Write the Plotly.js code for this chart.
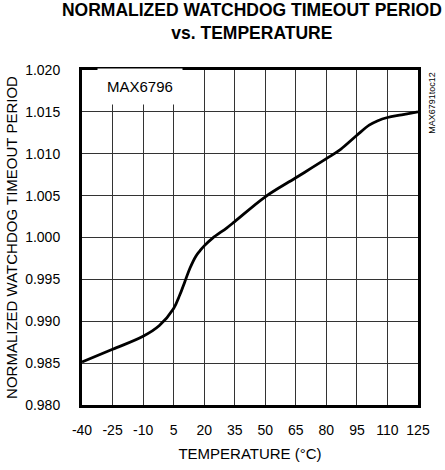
<!DOCTYPE html>
<html>
<head>
<meta charset="utf-8">
<script src="https://cdn.plot.ly/plotly-3.0.1.min.js"></script>
<style>html,body{margin:0;padding:0;background:#fff;}#chart{width:445px;height:470px;}</style>
</head>
<body>
<div id="chart"></div>
<script>
// Data
const temperature = [-40, -25, -10, -2, 5, 8, 10.5, 13, 16, 18, 20, 24, 31, 35, 50, 65, 80, 87, 95, 101, 105, 110, 117, 125];
const normPeriod  = [0.98513, 0.98665, 0.98821, 0.98950, 0.99153, 0.99313, 0.99473, 0.99633, 0.99780, 0.99844, 0.99900, 0.99990, 1.00113, 1.00190, 1.00486, 1.00713, 1.00941, 1.01053, 1.01221, 1.01341, 1.01392, 1.01433, 1.01464, 1.01500];
const xTicks = [-40, -25, -10, 5, 20, 35, 50, 65, 80, 95, 110, 125];
const yTicks = [0.980, 0.985, 0.990, 0.995, 1.000, 1.005, 1.010, 1.015, 1.020];
const yTickText = yTicks.map(v => v.toFixed(3));

const sans = '"Liberation Sans", Arial, sans-serif';

const trace = {
  x: temperature, y: normPeriod, type: 'scatter', mode: 'lines',
  line: {color: '#000', width: 2.8, shape: 'spline', smoothing: 1.0},
  hoverinfo: 'skip', showlegend: false
};

const layout = {
  width: 445, height: 470,
  margin: {l: 82, r: 27, t: 70, b: 65},
  paper_bgcolor: '#fff', plot_bgcolor: '#fff',
  font: {family: sans, size: 14, color: '#000'},
  title: {
    text: '<b>NORMALIZED WATCHDOG TIMEOUT PERIOD<br>vs. TEMPERATURE</b>',
    font: {family: sans, size: 17.5, color: '#000'},
    x: 0.566, xanchor: 'center', xref: 'container',
    y: 0.965, yanchor: 'top', yref: 'container'
  },
  xaxis: {
    range: [-40, 125], tickmode: 'array', tickvals: xTicks,
    ticktext: xTicks.map(String),
    showgrid: true, gridcolor: '#333', gridwidth: 1,
    showline: true, linecolor: '#000', linewidth: 3, mirror: true,
    ticks: '', ticklabelstandoff: 10,
    zeroline: false,
    tickfont: {family: sans, size: 14, color: '#000'},
    title: {text: 'TEMPERATURE (°C)', font: {family: sans, size: 15, color: '#000'}, standoff: 12}
  },
  yaxis: {
    range: [0.98, 1.02], tickmode: 'array', tickvals: yTicks, ticktext: yTickText,
    showgrid: true, gridcolor: '#333', gridwidth: 1,
    showline: true, linecolor: '#000', linewidth: 3, mirror: true,
    ticks: '', ticklabelstandoff: 16,
    zeroline: false,
    tickfont: {family: sans, size: 14, color: '#000'},
    title: {text: 'NORMALIZED WATCHDOG TIMEOUT PERIOD', font: {family: sans, size: 15, color: '#000'}, standoff: 4}
  },
  annotations: [
    {
      text: 'MAX6796', xref: 'paper', yref: 'paper', x: 0.173, y: 0.95,
      xanchor: 'center', yanchor: 'middle', showarrow: false,
      font: {family: sans, size: 15, color: '#000'},
      bgcolor: '#fff', borderpad: 9
    },
    {
      text: 'MAX6791toc12', xref: 'paper', yref: 'paper', x: 1.02, y: 1.0,
      xanchor: 'left', yanchor: 'top', textangle: -90, showarrow: false,
      font: {family: sans, size: 9, color: '#000'}
    }
  ]
};

Plotly.newPlot('chart', [trace], layout, {staticPlot: true, displayModeBar: false});
</script>
</body>
</html>
